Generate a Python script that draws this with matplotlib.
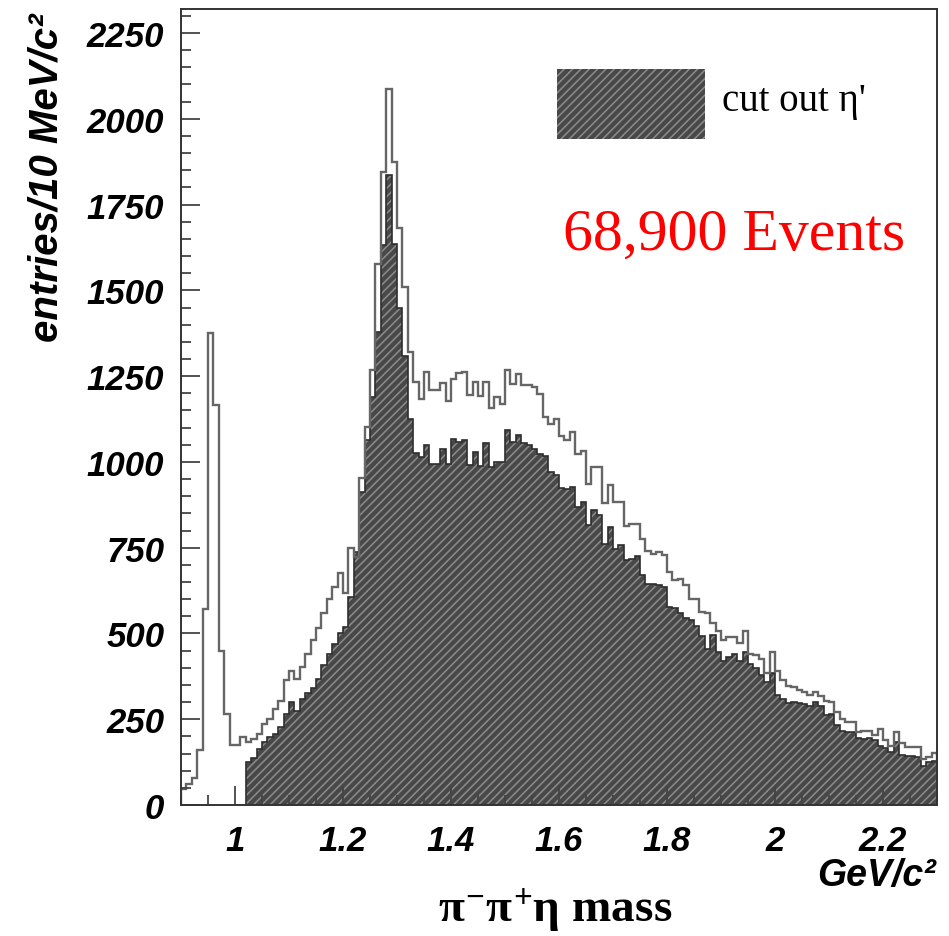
import numpy as np
import matplotlib.pyplot as plt
from matplotlib.patches import Rectangle
from matplotlib.ticker import MultipleLocator, FuncFormatter

plt.rcParams['mathtext.fontset'] = 'custom'
plt.rcParams['mathtext.rm'] = 'Liberation Serif:bold'
plt.rcParams['mathtext.it'] = 'Liberation Serif:bold'
plt.rcParams['mathtext.bf'] = 'Liberation Serif:bold'
plt.rcParams['hatch.linewidth'] = 1.1
plt.rcParams['hatch.color'] = '#8c8c8c'

# histogram binning: 10 MeV bins
bin_lo = 0.90
bin_w = 0.01
cut_lo = 1.02

# all events (open histogram), 0.90 .. 2.30
all_counts = [
    47, 60, 80, 160, 570, 1375, 1165, 450, 265, 175,
    175, 197, 183, 192, 207, 236, 251, 280, 304, 363,
    392, 368, 402, 440, 480, 515, 560, 600, 635, 677,
    618, 749, 723, 953, 1102, 1267, 1578, 1846, 2087, 1875,
    1682, 1510, 1321, 1233, 1184, 1261, 1209, 1209, 1230, 1177,
    1243, 1258, 1262, 1195, 1233, 1192, 1233, 1158, 1189, 1168,
    1267, 1226, 1257, 1223, 1223, 1218, 1197, 1131, 1110, 1126,
    1075, 1065, 1087, 1023, 1032, 937, 984, 984, 880, 934,
    884, 884, 812, 820, 820, 776, 740, 733, 737, 730,
    680, 655, 660, 640, 601, 601, 562, 560, 530, 506,
    482, 489, 489, 472, 506, 441, 438, 425, 385, 445,
    390, 365, 346, 343, 336, 330, 321, 329, 317, 304,
    299, 270, 251, 243, 243, 214, 217, 217, 204, 222,
    188, 173, 212, 181, 168, 168, 168, 134, 139, 152,
]

# eta' cut out (hatched histogram), 1.02 .. 2.30
cut_counts = [
    124, 136, 163, 183, 197, 207, 226, 265,
    299, 275, 309, 326, 340, 368, 408, 440, 470, 500,
    519, 605, 736, 913, 1065, 1190, 1379, 1632, 1836, 1636,
    1449, 1308, 1126, 1025, 1015, 1048, 995, 995, 1039, 995,
    1066, 1058, 1063, 990, 1028, 987, 1054, 986, 1001, 1001,
    1093, 1057, 1077, 1056, 1048, 1038, 1024, 1018, 970, 962,
    925, 922, 927, 870, 883, 815, 859, 844, 761, 810,
    747, 757, 713, 718, 727, 669, 645, 645, 640, 635,
    578, 575, 560, 545, 540, 523, 494, 455, 496, 445,
    420, 430, 440, 420, 445, 410, 398, 378, 358, 385,
    322, 310, 298, 300, 296, 295, 290, 299, 290, 262,
    265, 232, 217, 212, 212, 195, 191, 195, 188, 173,
    166, 154, 183, 147, 144, 144, 139, 115, 124, 129,
]

edges_all = bin_lo + bin_w * np.arange(len(all_counts) + 1)
edges_cut = cut_lo + bin_w * np.arange(len(cut_counts) + 1)

W, H = 949, 937
fig = plt.figure(figsize=(W / 100, H / 100), dpi=100)
ax = fig.add_axes([181 / W, 1 - 806 / H, 756 / W, 796 / H])

ax.stairs(cut_counts, edges_cut, fill=True, facecolor='#484848',
          edgecolor='#8c8c8c', hatch='////', lw=0)
ax.stairs(cut_counts, edges_cut, color='#2e2e2e', lw=1.2)
ax.stairs(all_counts, edges_all, color='#666666', lw=1.7)

ax.set_xlim(0.9, 2.3)
ax.set_ylim(0, 2320)
ax.xaxis.set_major_locator(MultipleLocator(0.2))
ax.xaxis.set_minor_locator(MultipleLocator(0.05))
ax.yaxis.set_major_locator(MultipleLocator(250))
ax.yaxis.set_minor_locator(MultipleLocator(50))
ax.xaxis.set_major_formatter(FuncFormatter(lambda v, p: '%g' % round(v, 2)))
ax.tick_params(which='both', direction='in', top=False, right=False,
               color='#444444', width=1.3)
ax.tick_params(which='major', length=14)
ax.tick_params(which='minor', length=7)
ax.tick_params(axis='x', pad=14)
ax.tick_params(axis='y', pad=12)
for lab in ax.get_xticklabels() + ax.get_yticklabels():
    lab.set_fontfamily('Liberation Sans')
    lab.set_fontweight('bold')
    lab.set_fontstyle('italic')
    lab.set_fontsize(25)
for sp in ax.spines.values():
    sp.set_color('#333333')
    sp.set_linewidth(1.4)

bold_it = dict(fontfamily='Liberation Sans', fontweight='bold', fontstyle='italic')
fig.text(47 / W, 1 - 14 / H, 'entries/10 MeV/c²', rotation=90,
         ha='center', va='top', fontsize=29, **bold_it)
fig.text(936 / W, 1 - 858 / H, 'GeV/c²', ha='right', va='top',
         fontsize=27, **bold_it)
fig.text(555 / W, 1 - 910 / H, r'$\pi^{-}\pi^{+}\eta$ mass', ha='center',
         va='center', fontsize=34, fontfamily='Liberation Serif',
         fontweight='bold')

# legend box
ax.add_patch(Rectangle(((557 - 181) / 756, (806 - 140) / 796), 148 / 756, 70 / 796,
                       transform=ax.transAxes, facecolor='#484848',
                       edgecolor='#8c8c8c', hatch='////', lw=0))
fig.text(722 / W, 1 - 102 / H, "cut out η'", ha='left', va='center',
         fontsize=28, fontfamily='Liberation Serif')
fig.text(563 / W, 1 - 236 / H, '68,900 Events', ha='left', va='center',
         fontsize=43, color='red', fontfamily='Liberation Serif')

fig.savefig('out.png', dpi=100)
